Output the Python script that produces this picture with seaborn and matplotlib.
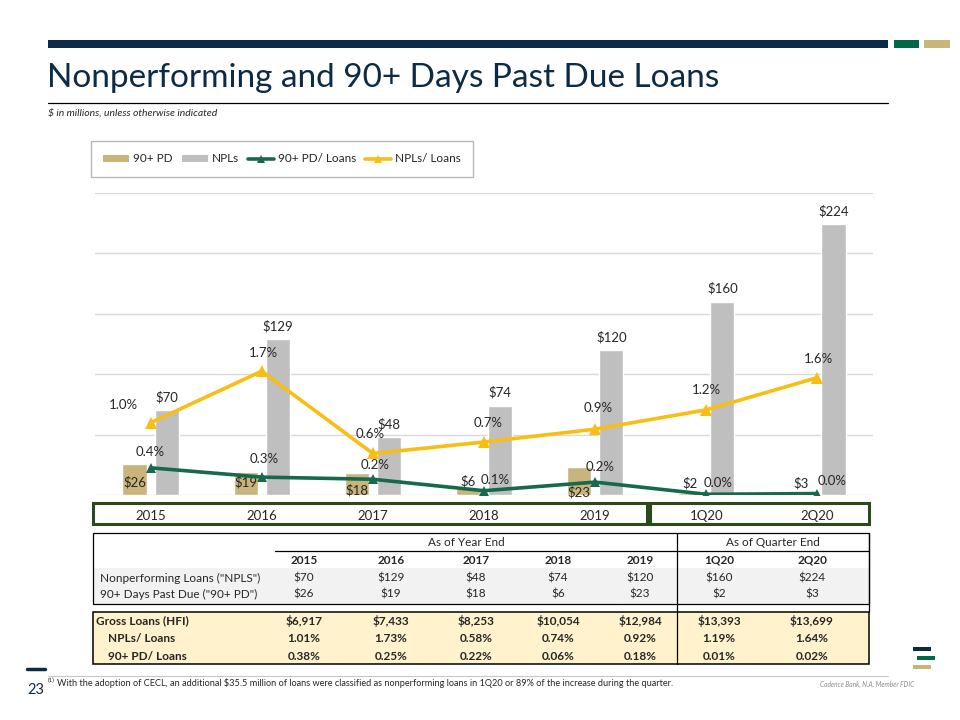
import numpy as np
import pandas as pd
import matplotlib
matplotlib.use("Agg")
import matplotlib.pyplot as plt
from matplotlib.patches import Rectangle, Patch
from matplotlib.lines import Line2D
import seaborn as sns

# data
periods = ["2015", "2016", "2017", "2018", "2019", "1Q20", "2Q20"]
npls = [70, 129, 48, 74, 120, 160, 224]
pd90 = [26, 19, 18, 6, 23, 2, 3]
gross_loans = [6917, 7433, 8253, 10054, 12984, 13393, 13699]
npl_ratio = [1.01, 1.73, 0.58, 0.74, 0.92, 1.19, 1.64]
pd90_ratio = [0.38, 0.25, 0.22, 0.06, 0.18, 0.01, 0.02]
bar_series = ["90+ PD", "NPLs"]
line_series = ["90+ PD/ Loans", "NPLs/ Loans"]

TAN = "#C9B57C"
GREY = "#BFBFBF"
GREEN = "#17694C"
GOLD = "#F8BE13"
NAVY = "#0C2B47"
BOX_GREEN = "#2B4A1C"
TXT = "#262626"

sns.set_theme(style="white")
plt.rcParams["font.family"] = ["Lato", "DejaVu Sans"]

W, H = 960, 720
fig = plt.figure(figsize=(9.6, 7.2), dpi=100)


def fx(x):
    return x / W


def fy(y):
    return 1 - y / H


def pct1(v):
    # round half up, like the slide labels
    return f"{np.floor(v * 10 + 0.5) / 10:.1f}%"


# overlay in pixel coordinates for the slide furniture
ov = fig.add_axes([0, 0, 1, 1], zorder=0)
ov.set_xlim(0, W)
ov.set_ylim(H, 0)
ov.axis("off")

# header band
ov.add_patch(Rectangle((48, 40), 840, 8, color=NAVY, lw=0))
ov.add_patch(Rectangle((894, 40), 25, 8, color="#006747", lw=0))
ov.add_patch(Rectangle((924, 40), 26, 8, color="#C8B57A", lw=0))
ov.text(47, 87, "Nonperforming and 90+ Days Past Due Loans", fontsize=24,
        color=NAVY, va="baseline", ha="left")
ov.plot([48, 888], [103, 103], color="black", lw=0.9)
ov.text(48, 113, "$ in millions, unless otherwise indicated", fontsize=7.5,
        style="italic", color=TXT, va="center")

# ---- chart ----
ax = fig.add_axes([fx(95), fy(495), fx(873 - 95), (495 - 193) / H], zorder=2)
bars = pd.DataFrame({
    "period": periods * 2,
    "series": [bar_series[0]] * len(periods) + [bar_series[1]] * len(periods),
    "value": pd90 + npls,
})
sns.barplot(data=bars, x="period", y="value", hue="series", order=periods,
            hue_order=bar_series, palette=[TAN, GREY], saturation=1,
            width=0.58, gap=0.25, legend=False, ax=ax)
ax.set_ylim(0, 250)
ax.set_yticks(range(0, 251, 50))
ax.yaxis.grid(True, color="#D9D9D9", lw=1)
ax.set_axisbelow(True)
ax.set_xlabel("")
ax.set_ylabel("")
for s in ax.spines.values():
    s.set_visible(False)

tan_rects = sorted(ax.containers[0], key=lambda r: r.get_x())
grey_rects = sorted(ax.containers[1], key=lambda r: r.get_x())

for r, v in zip(grey_rects, npls):
    ax.annotate(f"${v}", (r.get_x() + r.get_width() / 2, v), xytext=(0, 13),
                textcoords="offset pixels", ha="center", va="center",
                fontsize=9.5, color=TXT)

tan_lift = [13, 13, 5, 14, 3, 12, 12]
for r, v, dy in zip(tan_rects, pd90, tan_lift):
    ax.annotate(f"${v}", (r.get_x() + r.get_width() / 2, 0), xytext=(0, dy),
                textcoords="offset pixels", ha="center", va="center",
                fontsize=9.5, color=TXT)

ax2 = ax.twinx()
pos = np.arange(len(periods))
sns.lineplot(x=pos, y=pd90_ratio, color=GREEN, lw=2.6, marker="^",
             markersize=7, markeredgewidth=0, ax=ax2)
sns.lineplot(x=pos, y=npl_ratio, color=GOLD, lw=2.6, marker="^",
             markersize=8, markeredgewidth=0, ax=ax2)
ax2.set_ylim(0, 4.22)
ax2.set_yticks([])
ax2.set_ylabel("")
ax2.grid(False)
for s in ax2.spines.values():
    s.set_visible(False)
ax.set_xlim(-0.5, len(periods) - 0.5)
# twinx turns the left ticks back on, so set tick params afterwards
ax.tick_params(axis="y", left=False, right=False, labelleft=False)
ax.tick_params(axis="x", bottom=False, labelsize=9.5, labelcolor=TXT, pad=5)

gold_off = [(-27, 18), (2, 18), (-3, 19), (4, 19), (3, 21), (0, 20), (1, 19)]
for p, v, (dx, dy) in zip(pos, npl_ratio, gold_off):
    ax2.annotate(pct1(v), (p, v), xytext=(dx, dy), textcoords="offset pixels",
                 ha="center", va="center", fontsize=9.5, color=TXT)
green_off = [(0, 16), (2, 18), (2, 14), (11, 11), (5, 15), (12, 11), (15, 13)]
for p, v, (dx, dy) in zip(pos, pd90_ratio, green_off):
    ax2.annotate(pct1(v), (p, v), xytext=(dx, dy), textcoords="offset pixels",
                 ha="center", va="center", fontsize=9.5, color=TXT)

handles = [
    Patch(facecolor=TAN, edgecolor="none"),
    Patch(facecolor=GREY, edgecolor="none"),
    Line2D([], [], color=GREEN, lw=2.6, marker="^", markersize=6, markeredgewidth=0),
    Line2D([], [], color=GOLD, lw=2.6, marker="^", markersize=6, markeredgewidth=0),
]
leg = fig.legend(handles, bar_series + line_series, loc="center",
                 bbox_to_anchor=(fx(282), fy(159)), ncol=4, frameon=True,
                 fancybox=False, edgecolor="#A6A6A6", fontsize=8.5,
                 handlelength=2.2, handletextpad=0.3, columnspacing=0.8,
                 borderpad=1.05, handleheight=0.6)
leg.get_frame().set_linewidth(1)
for t in leg.get_texts():
    t.set_color(TXT)

# category boxes
ov.add_patch(Rectangle((93, 503), 554, 21, fill=False, ec=BOX_GREEN, lw=2.2))
ov.add_patch(Rectangle((650, 503), 219, 21, fill=False, ec=BOX_GREEN, lw=2.2))

# ---- table ----
col_x = [304, 391, 476, 558, 640, 719, 812]
ov.add_patch(Rectangle((93, 568), 776, 36, color="#F2F2F2", lw=0))
ov.add_patch(Rectangle((93, 533), 776, 71, fill=False, ec="black", lw=0.9))
ov.plot([275, 869], [551, 551], color="black", lw=0.9)
ov.plot([677, 677], [533, 612], color="black", lw=0.9)
ov.plot([869, 869], [533, 612], color="black", lw=0.9)
ov.add_patch(Rectangle((93, 612), 776, 52, fc="#FFF2CC", ec="black", lw=1.1))
ov.plot([677, 677], [612, 664], color="black", lw=0.9)

tsz = 8.5
ov.text(466, 543, "As of Year End", ha="center", va="center", fontsize=tsz, color=TXT)
ov.text(773, 543, "As of Quarter End", ha="center", va="center", fontsize=tsz, color=TXT)
for x, p in zip(col_x, periods):
    ov.text(x, 560, p, ha="center", va="center", fontsize=tsz,
            fontweight="bold", color=TXT)

ov.text(100, 578, 'Nonperforming Loans ("NPLS")', va="center", fontsize=tsz, color=TXT)
ov.text(100, 594, '90+ Days Past Due ("90+ PD")', va="center", fontsize=tsz, color=TXT)
ov.text(96, 621, "Gross Loans (HFI)", va="center", fontsize=tsz, fontweight="bold", color=TXT)
ov.text(108, 638, "NPLs/ Loans", va="center", fontsize=tsz, fontweight="bold", color=TXT)
ov.text(108, 656, "90+ PD/ Loans", va="center", fontsize=tsz, fontweight="bold", color=TXT)

for x, a, b, g, r1, r2 in zip(col_x, npls, pd90, gross_loans, npl_ratio, pd90_ratio):
    ov.text(x, 578, f"${a}", ha="center", va="center", fontsize=tsz, color=TXT)
    ov.text(x, 594, f"${b}", ha="center", va="center", fontsize=tsz, color=TXT)
    ov.text(x, 621, f"${g:,}", ha="center", va="center", fontsize=tsz,
            fontweight="bold", color=TXT)
    ov.text(x, 638, f"{r1:.2f}%", ha="center", va="center", fontsize=tsz,
            fontweight="bold", color=TXT)
    ov.text(x, 656, f"{r2:.2f}%", ha="center", va="center", fontsize=tsz,
            fontweight="bold", color=TXT)

# ---- footer ----
ov.plot([27, 45], [669, 669], color=NAVY, lw=2.5)
ov.text(36, 690, "23", ha="center", va="center", fontsize=10.5, color=NAVY)
ov.plot([48, 888], [676, 676], color="#C8C8C8", lw=0.8)
ov.text(48, 680, "(1)", fontsize=4.5, va="center", color=TXT)
ov.text(57, 683, "With the adoption of CECL, an additional $35.5 million of loans were "
        "classified as nonperforming loans in 1Q20 or 89% of the increase during the quarter.",
        fontsize=6.6, va="center", color=TXT)
ov.text(820, 684, "Cadence Bank, N.A. Member FDIC", fontsize=4.8, style="italic",
        va="center", color="#8C8C8C")
ov.add_patch(Rectangle((913, 647), 18, 3.5, color=NAVY, lw=0))
ov.add_patch(Rectangle((917, 656), 18, 3.5, color="#006747", lw=0))
ov.add_patch(Rectangle((913, 665), 18, 3.5, color="#C8B57A", lw=0))

fig.savefig("out.png", dpi=100)
